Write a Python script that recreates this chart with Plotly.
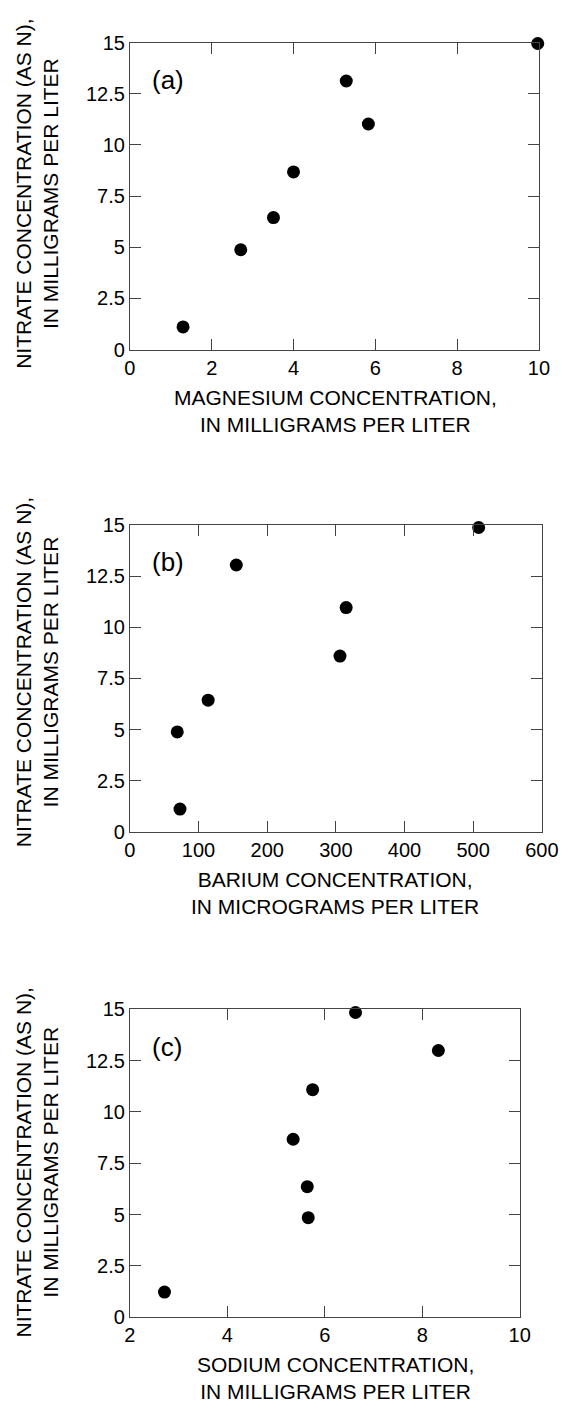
import plotly.graph_objects as go

W, H = 579, 1412

# ---- data ----
mg_x = [1.30, 2.71, 3.51, 4.00, 5.29, 5.83, 9.97]
mg_y = [1.11, 4.88, 6.45, 8.68, 13.12, 11.02, 14.95]

ba_x = [69, 73, 114, 155, 306, 315, 508]
ba_y = [4.89, 1.12, 6.44, 13.04, 8.59, 10.96, 14.87]

na_x = [2.71, 5.35, 5.64, 5.66, 5.75, 6.63, 8.33]
na_y = [1.23, 8.67, 6.36, 4.85, 11.08, 14.84, 12.99]

y_tickvals = [0, 2.5, 5, 7.5, 10, 12.5, 15]
y_ticktext = ["0", "2.5", "5", "7.5", "10", "12.5", "15"]
mg_ticks = [0, 2, 4, 6, 8, 10]
ba_ticks = [0, 100, 200, 300, 400, 500, 600]
na_ticks = [2, 4, 6, 8, 10]

panel_labels = ["(a)", "(b)", "(c)"]
x_titles = ["MAGNESIUM CONCENTRATION,<br>IN MILLIGRAMS PER LITER",
            "BARIUM CONCENTRATION,<br>IN MICROGRAMS PER LITER",
            "SODIUM CONCENTRATION,<br>IN MILLIGRAMS PER LITER"]
y_title = "NITRATE CONCENTRATION (AS N),<br>IN MILLIGRAMS PER LITER"

# ---- layout geometry (pixels) ----
boxes = [(129, 555, 32, 344), (129, 558, 522, 834), (129, 535, 1014, 1327)]
xranges = [[0, 10], [0, 600], [2, 10]]
xticks = [mg_ticks, ba_ticks, na_ticks]
ytitle_cy = [186, 672, 1170]

FONT = "Liberation Sans, Arial, sans-serif"
AX = "#444444"

fig = go.Figure()
series = [(mg_x, mg_y), (ba_x, ba_y), (na_x, na_y)]
for i, (xs, ys) in enumerate(series):
    sfx = "" if i == 0 else str(i + 1)
    fig.add_trace(go.Scatter(x=xs, y=ys, mode="markers",
                             marker=dict(size=13, color="black"),
                             cliponaxis=False,
                             xaxis="x" + sfx, yaxis="y" + sfx,
                             showlegend=False))

layout = dict(width=W, height=H, margin=dict(l=0, r=0, t=0, b=0),
              paper_bgcolor="white", plot_bgcolor="white",
              font=dict(family=FONT, size=20, color="black"),
              showlegend=False)

annotations = []
for i, (l, r, t, b) in enumerate(boxes):
    sfx = "" if i == 0 else str(i + 1)
    common = dict(showgrid=False, zeroline=False, showline=True, linecolor=AX,
                  linewidth=1, mirror="ticks", ticks="inside", ticklen=11,
                  tickcolor=AX, tickwidth=1,
                  tickfont=dict(family=FONT, size=20, color="black"))
    layout["xaxis" + sfx] = dict(domain=[l / W, r / W], range=xranges[i],
                                 tickvals=xticks[i], anchor="y" + sfx,
                                 **common)
    layout["yaxis" + sfx] = dict(domain=[1 - b / H, 1 - t / H], range=[0, 15],
                                 tickvals=y_tickvals, ticktext=y_ticktext,
                                 anchor="x" + sfx, **common)
    annotations.append(dict(text=panel_labels[i], xref="paper", yref="paper",
                            x=150 / W, y=1 - (t + 38) / H, xanchor="left",
                            yanchor="middle", showarrow=False,
                            font=dict(family=FONT, size=26, color="black")))
    annotations.append(dict(text=x_titles[i], xref="paper", yref="paper",
                            x=343 / W, y=1 - (b + 62) / H, xanchor="center",
                            yanchor="middle", showarrow=False,
                            font=dict(family=FONT, size=21, color="black")))
    annotations.append(dict(text=y_title, xref="paper", yref="paper",
                            x=32 / W, y=1 - ytitle_cy[i] / H, xanchor="center",
                            yanchor="middle", textangle=-90, showarrow=False,
                            font=dict(family=FONT, size=21, color="black")))

layout["annotations"] = annotations
fig.update_layout(**layout)
fig.write_html("out.html")
